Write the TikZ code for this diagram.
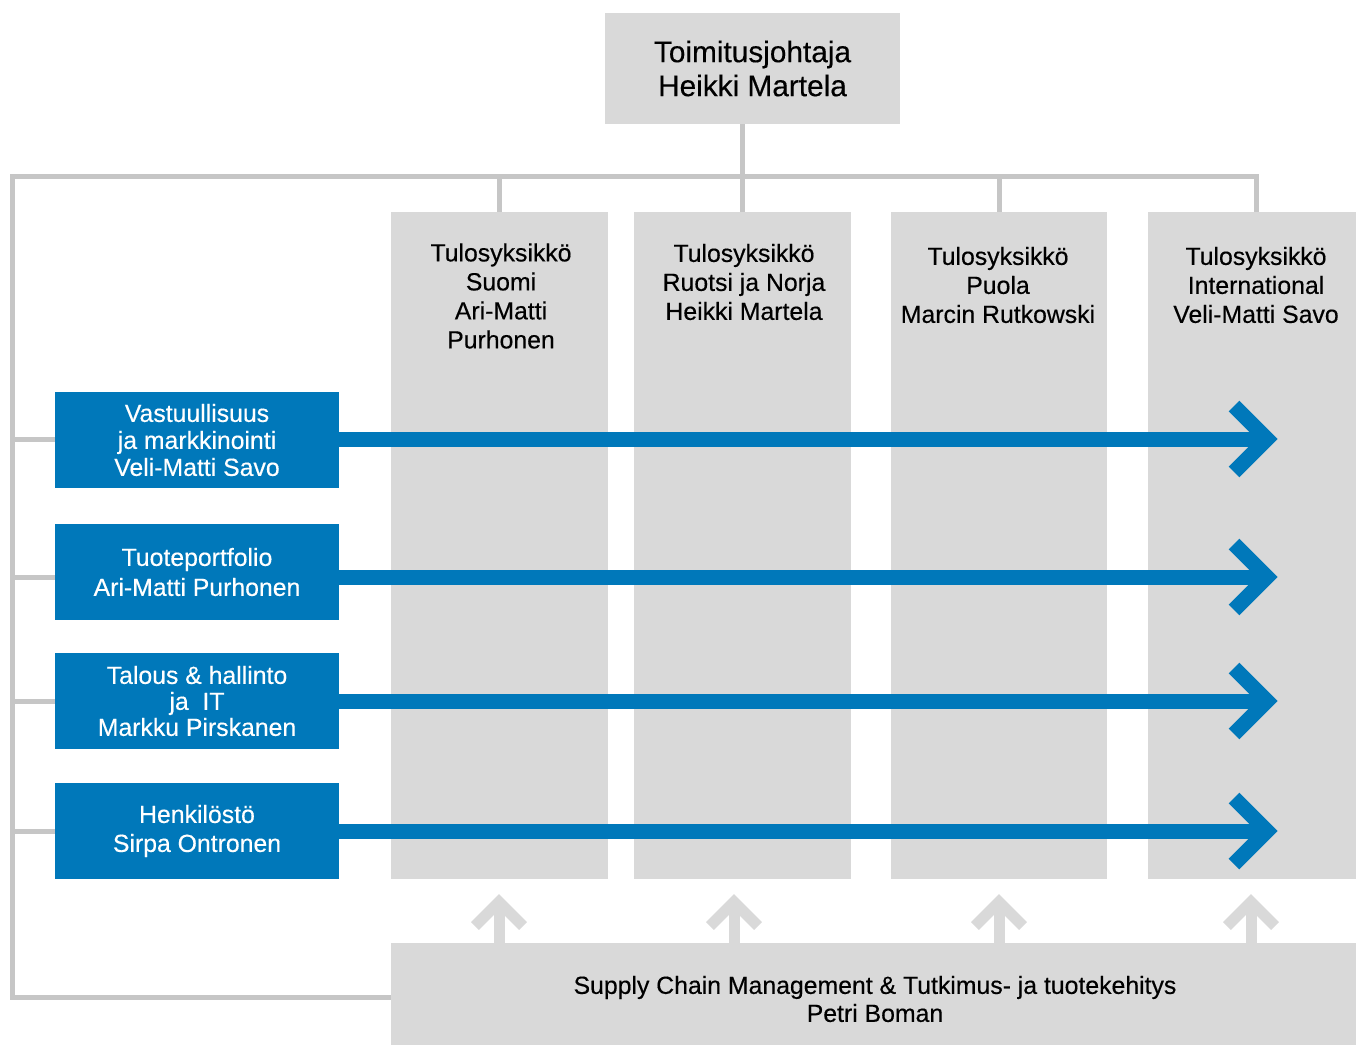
\documentclass[tikz,border=0pt]{standalone}
\usepackage{fontspec}
\setmainfont{Liberation Sans}[FakeBold=0.35]
\usetikzlibrary{calc}
\definecolor{linegray}{HTML}{C6C6C6}
\definecolor{boxgray}{HTML}{D9D9D9}
\definecolor{mblue}{HTML}{0078BA}
\begin{document}
\begin{tikzpicture}[x=0.5pt,y=-0.5pt,
 graybox/.style={fill=boxgray, draw=none, inner sep=0pt},
 bluebox/.style={fill=mblue, text=white, draw=none, inner sep=0pt, align=center, minimum width=142pt, minimum height=48pt},
 coltext/.style={align=center, font=\fontsize{12.4}{14.5}\selectfont},
 conn/.style={draw=linegray, line width=2.5pt},
 blueshaft/.style={draw=mblue, line width=7.5pt},
 bluehead/.style={draw=mblue, line width=7.5pt, line join=miter},
 upshaft/.style={draw=boxgray, line width=5.5pt}
]
\useasboundingbox (0,0) rectangle (1356,1045);

% coordinates
\coordinate (tl) at (12.5,176.5);
\coordinate (bl) at (12.5,997.5);
\coordinate (e1) at (1267,439);
\coordinate (e2) at (1267,577);
\coordinate (e3) at (1267,701);
\coordinate (e4) at (1267,831);
\coordinate (u1) at (499,902);
\coordinate (u2) at (734,902);
\coordinate (u3) at (999,902);
\coordinate (u4) at (1251,902);

% top box
\node[graybox, minimum width=147.5pt, minimum height=55.5pt, align=center,
      font=\fontsize{14.9}{17}\selectfont] (top) at (752.5,68.5) {Toimitusjohtaja\\Heikki Martela};

% columns
\node[graybox, minimum width=108.5pt, minimum height=333.5pt] (c1) at (499.5,545.5) {};
\node[graybox, minimum width=108.5pt, minimum height=333.5pt] (c2) at (742.5,545.5) {};
\node[graybox, minimum width=108pt, minimum height=333.5pt] (c3) at (999,545.5) {};
\node[graybox, minimum width=104pt, minimum height=333.5pt] (c4) at (1252,545.5) {};

\node[coltext] (t1) at (501,296) {Tulosyksikkö\\Suomi\\Ari-Matti\\Purhonen};
\node[coltext] (t2) at (744,282) {Tulosyksikkö\\Ruotsi ja Norja\\Heikki Martela};
\node[coltext] (t3) at (998,285) {Tulosyksikkö\\Puola\\Marcin Rutkowski};
\node[coltext] (t4) at (1256,285) {Tulosyksikkö\\International\\Veli-Matti Savo};

% bottom box
\node[graybox, minimum width=482.5pt, minimum height=51pt] (sb) at (873.5,994) {};
\node[coltext, font=\fontsize{12.4}{14}\selectfont] (sbt) at (875,999)
  {Supply Chain Management \& Tutkimus- ja tuotekehitys\\Petri Boman};

% blue boxes
\node[bluebox, font=\fontsize{12.4}{13.5}\selectfont] (b1) at (197,440) {Vastuullisuus\\ja markkinointi\\Veli-Matti Savo};
\node[bluebox, font=\fontsize{12.4}{15}\selectfont] (b2) at (197,572) {Tuoteportfolio\\Ari-Matti Purhonen};
\node[bluebox, font=\fontsize{12.4}{13}\selectfont] (b3) at (197,701) {Talous \& hallinto\\ja\ \ IT\\Markku Pirskanen};
\node[bluebox, font=\fontsize{12.4}{14.5}\selectfont] (b4) at (197,831) {Henkilöstö\\Sirpa Ontronen};

% gray connectors
\draw[conn] ($(c4.north)+(4,0)$) |- (tl) -- (bl) -- (sb.west |- bl);
\draw[conn] (top.south -| c2.north) -- (c2.north);
\draw[conn] (c1.north |- tl) -- (c1.north);
\draw[conn] (c3.north |- tl) -- (c3.north);
\foreach \i in {1,...,4}{
  \draw[conn] (tl |- e\i) -- (b\i.west |- e\i);
  \draw[blueshaft] (b\i.east |- e\i) -- (e\i);
  \draw[bluehead] ($(e\i)+(-33,-33)$) -- (e\i) -- ($(e\i)+(-33,33)$);
  \draw[upshaft] (sb.north -| u\i) -- (u\i);
  \draw[upshaft] ($(u\i)+(-24,24)$) -- (u\i) -- ($(u\i)+(24,24)$);
}
\end{tikzpicture}
\end{document}
